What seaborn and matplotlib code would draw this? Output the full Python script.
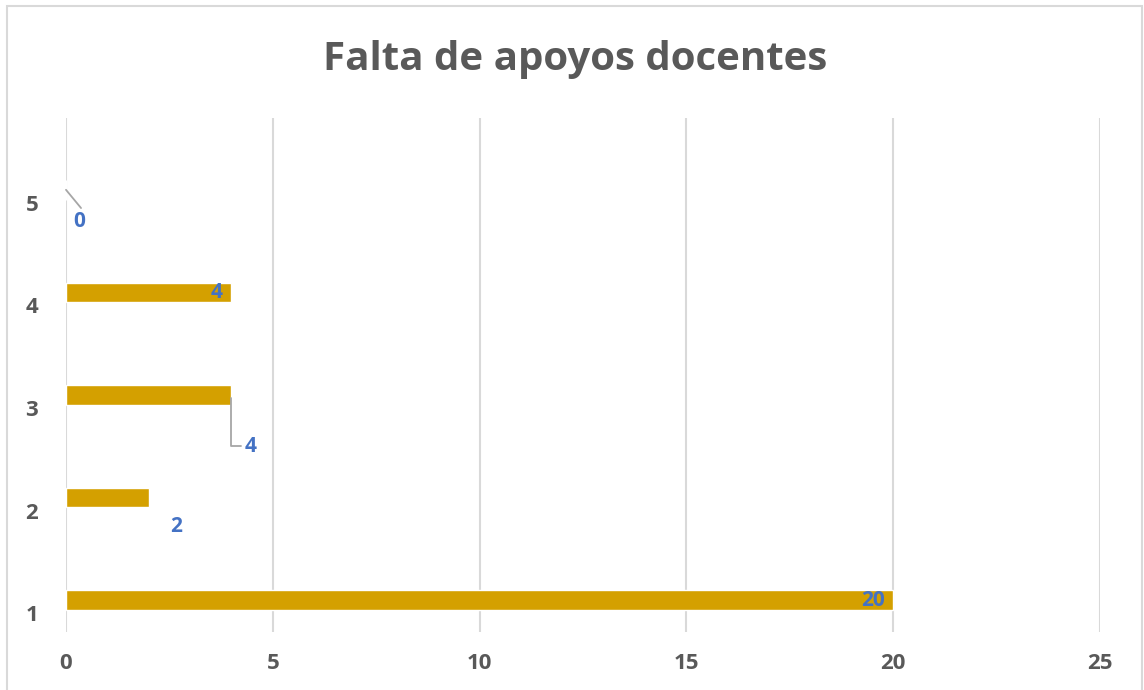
import pandas as pd
import numpy as np
import matplotlib.pyplot as plt
import seaborn as sns
from matplotlib.patches import Rectangle

# datos
categorias = [1, 2, 3, 4, 5]
valores = [20, 2, 4, 4, 0]
titulo = "Falta de apoyos docentes"

df = pd.DataFrame({"cat": categorias, "valor": valores})

sns.set_theme(style="white")
plt.rcParams['font.family'] = ['Open Sans', 'DejaVu Sans']

gris = "#595959"
azul = "#4472C4"
oro = "#D4A000"

fig = plt.figure(figsize=(11.44, 6.9), dpi=100)
ax = fig.add_axes([66/1144, 58/690, 1034/1144, 514/690])

sns.barplot(data=df, x="valor", y="cat", orient="h", native_scale=True,
            width=0.19, color=oro, saturation=1, ax=ax)

ax.set_xlim(0, 25)
ax.set_ylim(0.69, 5.70)
ax.set_xticks([0, 5, 10, 15, 20, 25])
ax.set_yticks([c - 0.127 for c in categorias])
ax.set_yticklabels([str(c) for c in categorias])
ax.grid(axis="x", color="#D9D9D9", linewidth=1.5)
ax.set_axisbelow(True)
for s in ax.spines.values():
    s.set_visible(False)
ax.tick_params(axis="x", length=0, pad=15, labelsize=16, labelcolor=gris)
ax.tick_params(axis="y", length=0, pad=20, labelsize=16, labelcolor=gris)
for t in ax.get_xticklabels() + ax.get_yticklabels():
    t.set_fontweight("bold")
ax.set_xlabel("")
ax.set_ylabel("")

fig.suptitle(titulo, x=0.503, y=0.942, fontsize=29, fontweight="bold", color=gris)

# etiquetas de datos (desplazamientos en pixeles)
offsets = {1: (-8, 0, "right"), 2: (27, -29, "center"), 3: (19, -51, "center"),
           4: (-15, 0, "center"), 5: (13, -32, "center")}
for c, v in zip(categorias, valores):
    dx, dy, ha = offsets[c]
    kw = {}
    if c == 3:
        kw["arrowprops"] = dict(arrowstyle="-", color="#A6A6A6", lw=1.3,
                                connectionstyle="angle,angleA=0,angleB=90,rad=0",
                                shrinkA=0, shrinkB=2)
    elif c == 5:
        kw["arrowprops"] = dict(arrowstyle="-", color="#A6A6A6", lw=1.3,
                                relpos=(0.9, 1.0), shrinkA=0, shrinkB=0)
    ax.annotate(str(v), xy=(v, c), xytext=(dx, dy), textcoords="offset pixels",
                ha=ha, va="center", fontsize=15, fontweight="bold", color=azul, **kw)

fig.patches.append(Rectangle((7/1144, -0.01), 1135/1144, 1 - 6/690 + 0.01,
                             transform=fig.transFigure, fill=False,
                             edgecolor="#D9D9D9", linewidth=1.5))

fig.savefig("out.png", dpi=100)
